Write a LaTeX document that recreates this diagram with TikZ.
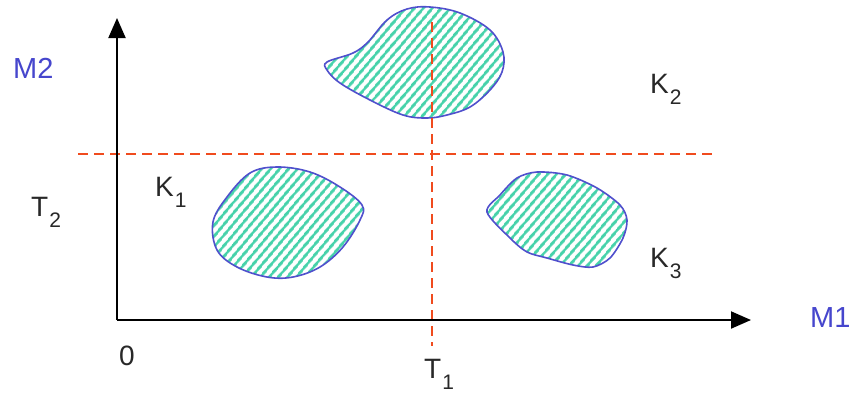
\documentclass[tikz,border=0pt]{standalone}
\usepackage{fontspec}
\setmainfont{Liberation Sans}
\usetikzlibrary{arrows.meta,patterns.meta}
\definecolor{axisblue}{RGB}{70,70,205}
\definecolor{edgeblue}{RGB}{80,80,205}
\definecolor{stripe}{RGB}{70,210,170}
\definecolor{dashred}{RGB}{240,75,30}
\definecolor{txt}{RGB}{40,40,40}
\newcommand{\lsub}[1]{\kern1pt\raisebox{-11pt}{\fontsize{21}{22}\selectfont #1}}
\begin{document}
\begin{tikzpicture}[x=1pt,y=-1pt,
  axisline/.style={line width=2pt,black,-{Triangle[length=20pt,width=17pt]}},
  threshold/.style={dashred,line width=1.6pt,dash pattern=on 10pt off 6pt},
  blob/.style={draw=edgeblue,line width=1.6pt,
    pattern={Lines[angle=50,distance=6.5pt,line width=2.8pt]},pattern color=stripe},
  lbl/.style={text=txt,font=\fontsize{28}{30}\selectfont,inner sep=0pt,anchor=base west},
  axlbl/.style={text=axisblue,font=\fontsize{29}{30}\selectfont,inner sep=0pt,anchor=base west}]
\useasboundingbox (0,0) rectangle (854,392);
\fill[white] (0,0) rectangle (854,392);
% blobs
\draw[blob] plot[smooth cycle,tension=0.6] coordinates {
 (327,62) (353,53) (368,42) (387,20) (407,9) (430,7) (460,13) (490,30)
 (503,52) (502,72) (490,90) (470,107) (447,115) (427,118) (403,115)
 (370,100) (340,83) (327,70)};
\draw[blob] plot[smooth cycle,tension=0.6] coordinates {
 (213,222) (227,197) (250,173) (277,167) (310,172) (340,187) (362,205)
 (360,220) (343,247) (320,267) (293,277) (267,277) (237,267) (217,250)};
\draw[blob] plot[smooth cycle,tension=0.5] coordinates {
 (487,212) (500,195) (517,178) (537,172) (567,175) (597,188) (620,205)
 (627,220) (623,238) (610,258) (593,267) (573,265) (547,258) (527,252)
 (510,238)};
% thresholds
\coordinate (h1) at (78,154);
\coordinate (h2) at (718,154);
\coordinate (v1) at (432,22);
\coordinate (v2) at (432,346);
\draw[threshold] (h1) -- (h2);
\draw[threshold] (v1) -- (v2);
% axes
\coordinate (O) at (117,320);
\coordinate (xend) at (751,320);
\coordinate (yend) at (117,18);
\draw[axisline] (O) -- (xend);
\draw[axisline] (O) -- (yend);
% labels
\node[axlbl] (m2) at (13,78) {M2};
\node[axlbl] (m1) at (810,327) {M1};
\node[lbl] (k2) at (650,93) {K\lsub{2}};
\node[lbl] (k1) at (155,196) {K\lsub{1}};
\node[lbl] (k3) at (650,267) {K\lsub{3}};
\node[lbl] (t2) at (31,216) {T\lsub{2}};
\node[lbl] (t1) at (424,378) {T\lsub{1}};
\node[lbl] (zero) at (119,365) {0};
\end{tikzpicture}
\end{document}
